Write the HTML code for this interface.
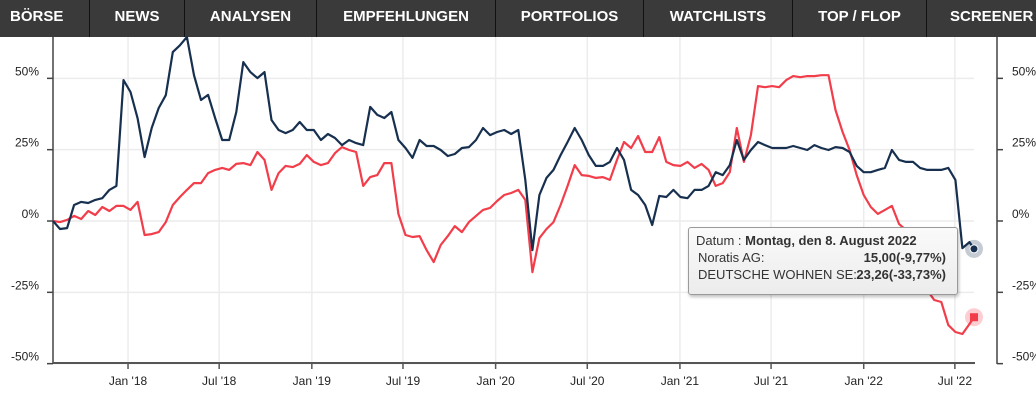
<!DOCTYPE html>
<html><head><meta charset="utf-8">
<style>
html,body{margin:0;padding:0;width:1036px;height:411px;overflow:hidden;background:#fff;font-family:"Liberation Sans",sans-serif;}
#nav{position:absolute;left:0;top:0;width:1036px;height:37px;background:#3a3a3a;overflow:hidden;}
.nav-item{position:absolute;top:0;height:37px;line-height:34px;color:#fff;font-weight:bold;font-size:15px;text-align:center;border-right:1px solid #111;box-sizing:border-box;white-space:nowrap;}
#chart{position:absolute;left:0;top:0;}
#tooltip{position:absolute;left:688px;top:227px;width:270px;height:68px;box-sizing:border-box;border:1px solid #9a9a9a;border-radius:3px;background:linear-gradient(#fafafa,#ececec);box-shadow:1px 2px 3px rgba(0,0,0,0.25);font-size:13px;color:#333;}
#tooltip div{position:absolute;white-space:nowrap;}
</style></head><body>
<div id="nav">
<div class="nav-item" style="left:0;width:90px;text-align:left;padding-left:10px">BÖRSE</div>
<div class="nav-item" style="left:90px;width:95px">NEWS</div>
<div class="nav-item" style="left:185px;width:132px">ANALYSEN</div>
<div class="nav-item" style="left:317px;width:179px">EMPFEHLUNGEN</div>
<div class="nav-item" style="left:496px;width:148px">PORTFOLIOS</div>
<div class="nav-item" style="left:644px;width:149px">WATCHLISTS</div>
<div class="nav-item" style="left:793px;width:134px">TOP / FLOP</div>
<div class="nav-item" style="left:927px;width:140px;border-right:none;text-align:left;padding-left:23px">SCREENER</div>
</div>
<svg id="chart" width="1036" height="411"></svg>
<div id="tooltip">
<div style="left:7px;top:5px">Datum : <b>Montag, den 8. August 2022</b></div>
<div style="left:9px;top:22px">Noratis AG:</div>
<div style="right:11px;top:22px;font-weight:bold">15,00(-9,77%)</div>
<div style="left:9px;top:39px">DEUTSCHE WOHNEN SE:</div>
<div style="right:11px;top:39px;font-weight:bold">23,26(-33,73%)</div>
</div>
<script>
const startDate = "2017-08-05";
const endDate = "2022-08-08";
const stepDays = 14;
const noratis = [0,-2.8,-2.5,5.6,6.7,6.3,7.4,8,10.9,12.3,49.4,45.2,36,22.4,32.6,39.6,44.1,59.2,61.6,64.5,51.1,42.4,44.2,36.1,28.4,28.4,38.2,55.7,52.2,50.1,52.2,35.4,31.9,30.8,31.9,34.7,31.9,31.9,28.4,30.5,29.1,26.6,28.4,27.3,26.6,40,37.2,36.1,38.2,28.4,25.6,22.1,28.4,26.3,26.3,24.9,22.8,23.5,25.6,25.9,28.4,32.6,30.1,31.2,31.9,30.5,31.9,14.4,-10.2,9.1,15.1,17.9,23.1,27.7,32.6,28.4,23.1,19.3,19.3,20.7,25.6,21.4,10.9,9.1,5.6,-1.4,8.8,8.4,10.9,8.4,8,10.9,10.9,12.3,17.1,16.1,19.6,28.4,21.4,24.9,27.7,26.6,25.6,25.6,25.6,26.3,25.6,24.9,26.6,25.6,24.9,25.9,25.6,24.2,19.3,17.1,17.1,17.9,18.6,24.9,21.4,20.7,20.7,18.6,17.9,17.9,17.9,18.6,14.4,-9.5,-7.4,-9.77];
const deutscheWohnen = [0,-0.4,0.4,1.8,0.7,3.5,2.1,4.9,3.5,5.3,5.3,3.9,6.7,-4.9,-4.6,-3.9,-0.4,5.6,8.4,10.9,13.3,13.3,16.8,17.9,18.6,17.9,20,20.3,19.6,24.2,21.4,10.9,16.8,19.3,18.9,20,23.1,20.7,19.6,20.3,23.8,25.9,24.9,24.2,12.3,15.4,16.1,20.3,20.3,2.5,-4.9,-5.6,-5.3,-10.2,-14.4,-8.4,-5.3,-1.8,-3.9,-0.4,1.8,3.9,4.6,7,9.1,9.8,10.9,7.4,-17.9,-6,-2.8,-0.4,5.6,12.3,19.6,16.1,15.8,15.1,15.4,14.4,21.4,27.7,25.6,29.8,24.2,24.2,29.4,20.7,19.6,19.3,20.7,18.6,20,17.9,12.3,13.3,17.1,32.6,20.7,30.1,47.3,46.9,47.3,46.9,49.4,50.8,50.4,50.8,50.8,51.1,51.1,38.9,31.2,24.9,16.1,9.1,4.9,2.5,3.9,5.3,-1,-3.2,-6.7,-13.7,-24.2,-27.7,-28.4,-36.5,-38.9,-39.6,-36.1,-33.73];
const yTicks = [50,25,0,-25,-50];
const xTickDates = ["2018-01-01","2018-07-01","2019-01-01","2019-07-01","2020-01-01","2020-07-01","2021-01-01","2021-07-01","2022-01-01","2022-07-01"];
const xTickLabels = ["Jan '18","Jul '18","Jan '19","Jul '19","Jan '20","Jul '20","Jan '21","Jul '21","Jan '22","Jul '22"];

const NS="http://www.w3.org/2000/svg";
const svg=document.getElementById('chart');
const X0=53,X1=974,Yzero=221,pxPerPct=2.853;
const t0=Date.parse(startDate),t1=Date.parse(endDate);
function xScale(t){return X0+(t-t0)/(t1-t0)*(X1-X0);}
function yScale(v){return Yzero-v*pxPerPct;}
function el(tag,attrs){const e=document.createElementNS(NS,tag);for(const k in attrs)e.setAttribute(k,attrs[k]);svg.appendChild(e);return e;}
function datesFor(n){const d=[];for(let i=0;i<n-1;i++)d.push(t0+i*stepDays*86400000);d.push(t1);return d;}

yTicks.forEach(v=>{
  const g=el('line',{x1:X0,x2:X1,y1:yScale(v),y2:yScale(v),stroke:'#ececec','stroke-width':1.5});
  
  
});
xTickDates.forEach((d,i)=>{
  const x=xScale(Date.parse(d));
  const g=el('line',{x1:x,x2:x,y1:37,y2:363,stroke:'#ececec','stroke-width':1.5});
  
  
  const tk=el('line',{x1:x,x2:x,y1:363,y2:369,stroke:'#555','stroke-width':1.5});
  
  
  const t=el('text',{x:x,y:385,'text-anchor':'middle','font-size':12,fill:'#222','font-family':'Liberation Sans, sans-serif'});
  t.textContent=xTickLabels[i];
  
  
});
const la=el('line',{x1:X0,x2:X0,y1:37,y2:364,stroke:'#444','stroke-width':1.5});


const ra=el('line',{x1:997,x2:997,y1:37,y2:364,stroke:'#444','stroke-width':1.5});


const xa=el('line',{x1:X0,x2:X1+1,y1:363,y2:363,stroke:'#555','stroke-width':2});


yTicks.forEach(v=>{
  const y=yScale(v);
  const a=el('line',{x1:47,x2:X0,y1:y,y2:y,stroke:'#444','stroke-width':1.5});
  
  
  const b=el('line',{x1:997,x2:1003,y1:y,y2:y,stroke:'#444','stroke-width':1.5});
  
  
  const l=el('text',{x:39,y:y-3,'text-anchor':'end','font-size':12,fill:'#222','font-family':'Liberation Sans, sans-serif'});
  l.textContent=v+'%';
  
  
  const r=el('text',{x:1012,y:y-3,'text-anchor':'start','font-size':12,fill:'#222','font-family':'Liberation Sans, sans-serif'});
  r.textContent=v+'%';
  
  
});
function drawSeries(vals,color,name){
  const ds=datesFor(vals.length);
  const pts=vals.map((v,i)=>xScale(ds[i]).toFixed(1)+','+yScale(v).toFixed(1)).join(' ');
  const p=el('polyline',{points:pts,fill:'none',stroke:color,'stroke-width':2.2,'stroke-linejoin':'round'});
  
  
  return [xScale(ds[ds.length-1]),yScale(vals[vals.length-1])];
}
const pr=drawSeries(deutscheWohnen,'#f23d4a','deutsche-wohnen-line');
const pn=drawSeries(noratis,'#17304f','noratis-line');
const h1=el('circle',{cx:pn[0],cy:pn[1],r:9,fill:'rgba(23,48,79,0.25)'});


const m1=el('circle',{cx:pn[0],cy:pn[1],r:4,fill:'#17304f',stroke:'#fff','stroke-width':1});


const h2=el('circle',{cx:pr[0],cy:pr[1],r:9,fill:'rgba(242,61,74,0.25)'});


const m2=el('rect',{x:pr[0]-4,y:pr[1]-4,width:8,height:8,fill:'#f23d4a'});


</script>
</body></html>
